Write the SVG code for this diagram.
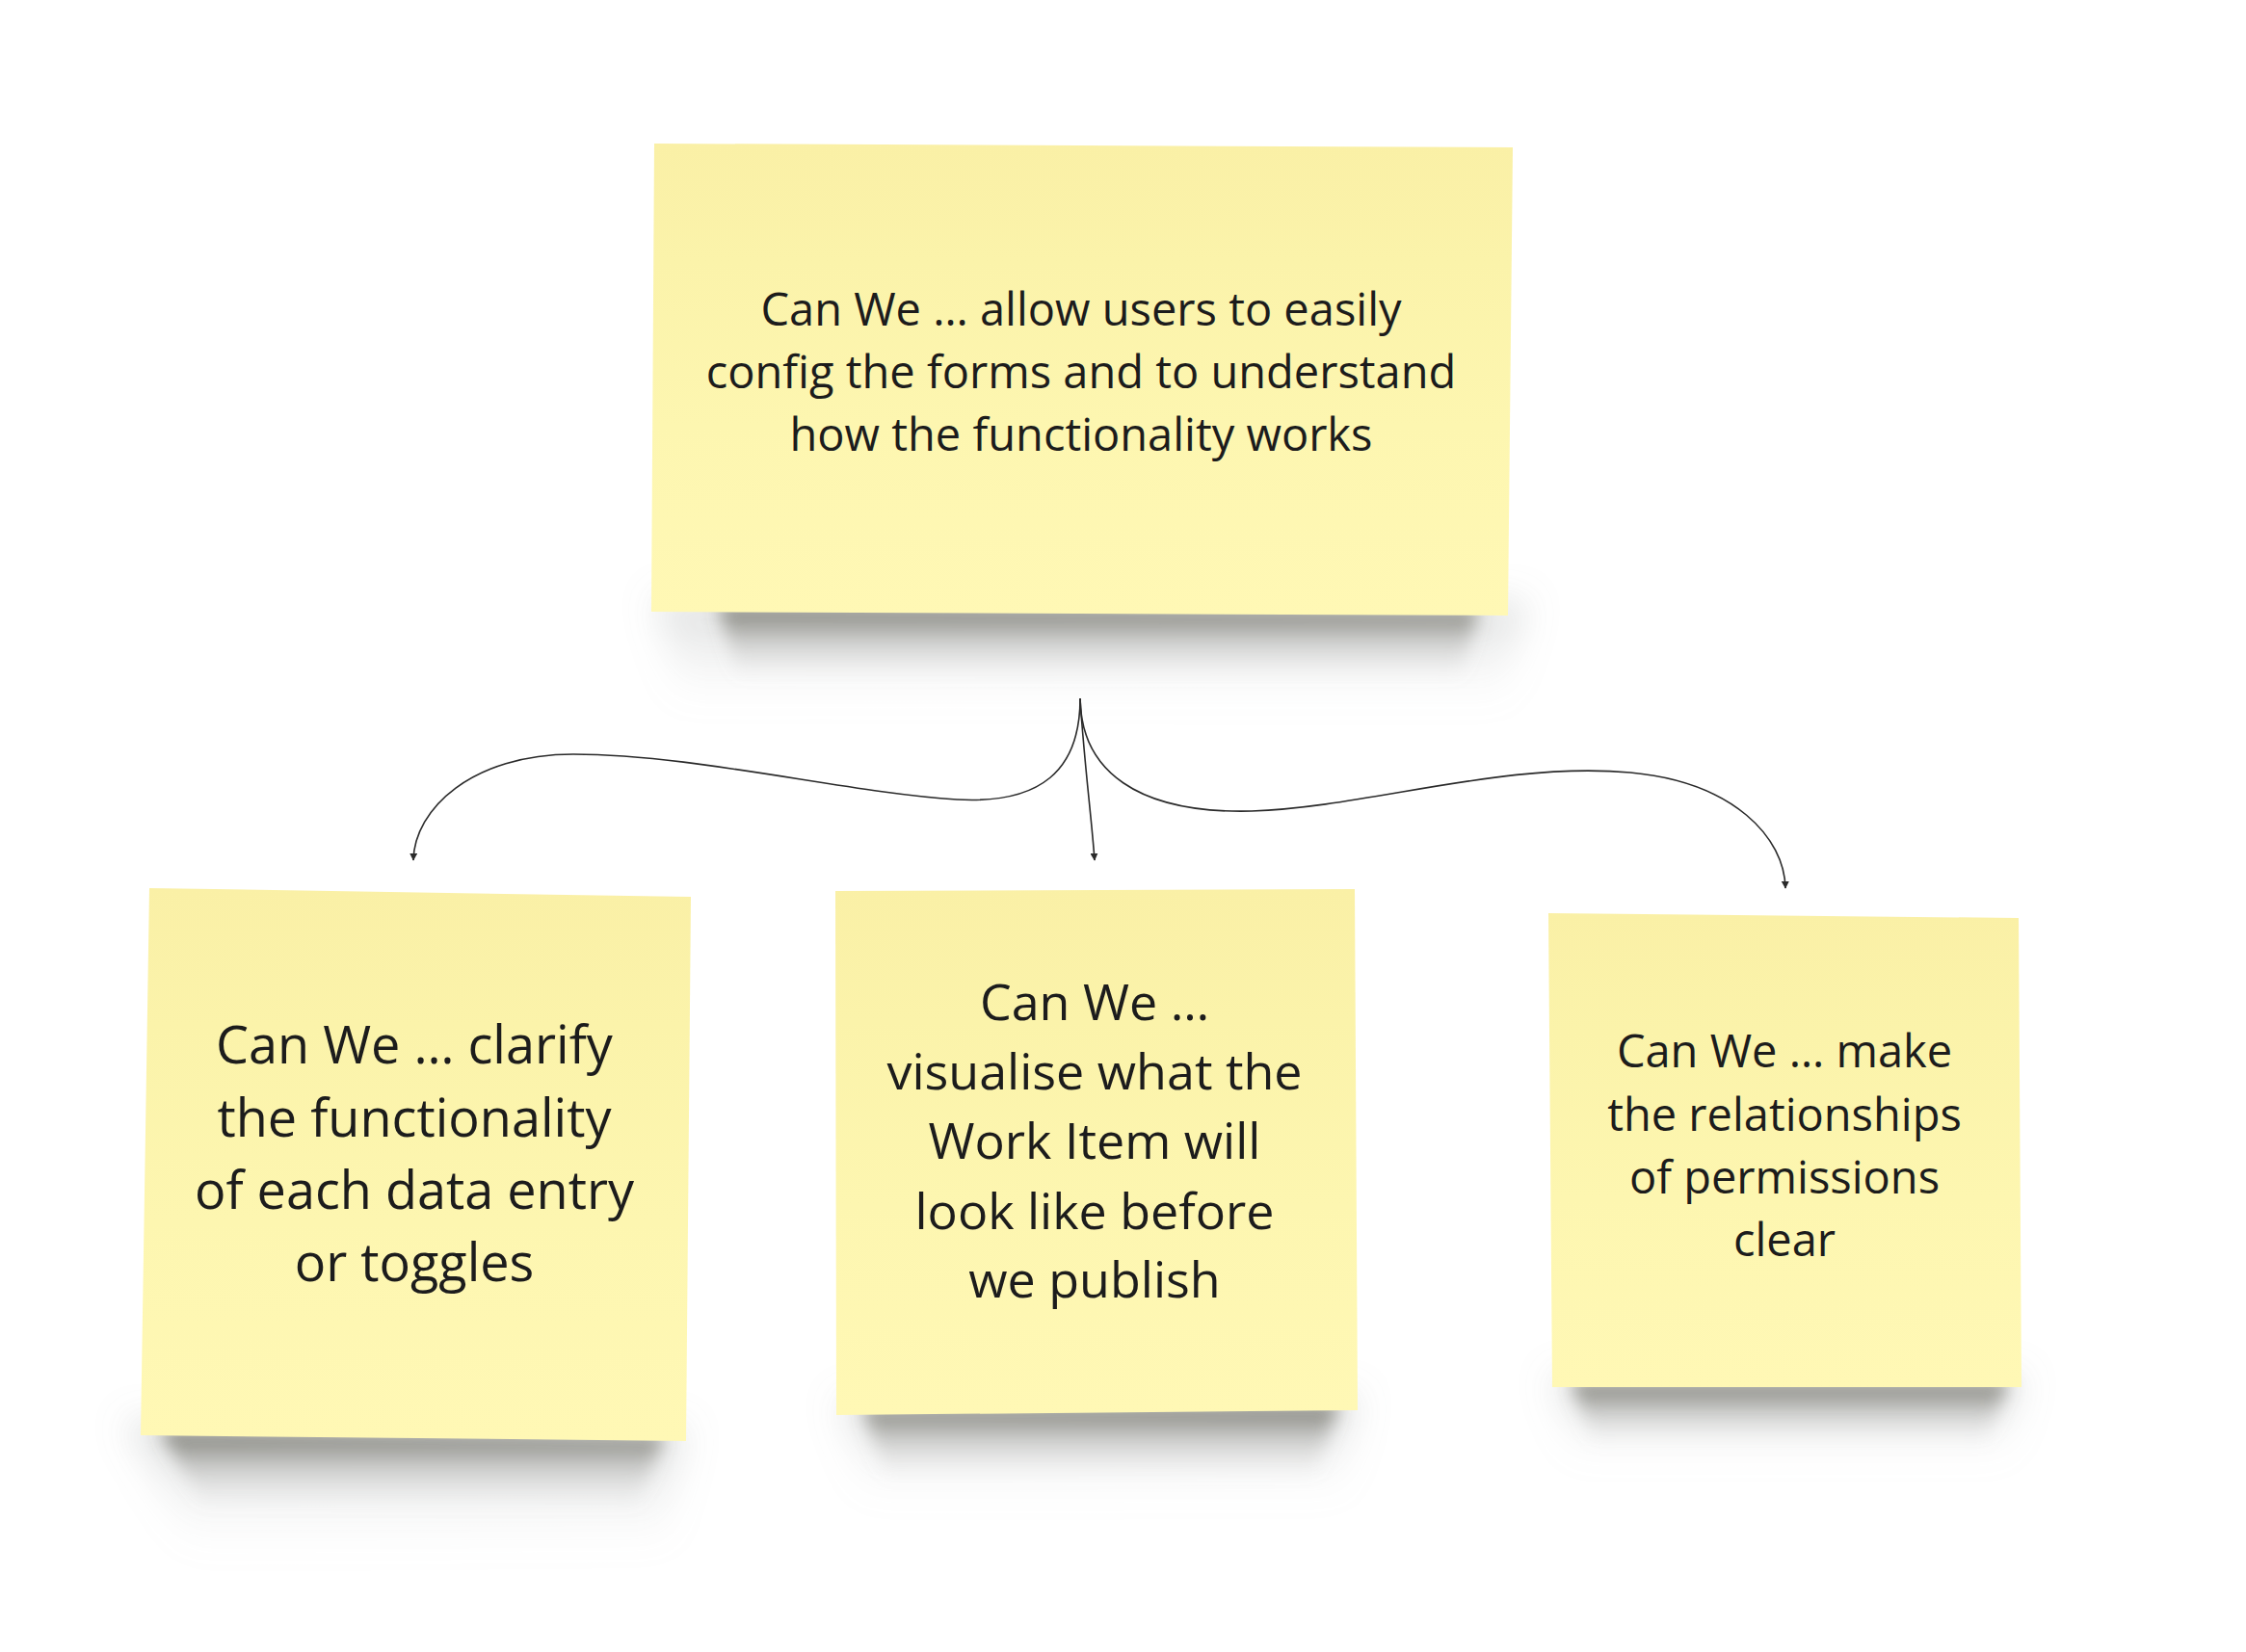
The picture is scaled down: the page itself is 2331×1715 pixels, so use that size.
<svg xmlns="http://www.w3.org/2000/svg" width="2331" height="1715" viewBox="0 0 2331 1715">
<style>
.txt{font-family:"Open Sans","Noto Sans","Liberation Sans",sans-serif;fill:#1c1c1c;text-anchor:middle}
.conn{fill:none;stroke:#2a2a2a;stroke-width:1.6}
.note{fill:url(#paper)}
.shd{fill:url(#shGrad);filter:url(#blurA)}
.halo{fill:url(#haloGrad);filter:url(#blurB)}
</style>
<defs>
<linearGradient id="paper" x1="0" y1="0" x2="0" y2="1">
<stop offset="0" stop-color="#faf0a6"/>
<stop offset="0.25" stop-color="#fbf3aa"/>
<stop offset="0.6" stop-color="#fdf6b0"/>
<stop offset="1" stop-color="#fff8b5"/>
</linearGradient>
<linearGradient id="shGrad" x1="0" y1="0" x2="0" y2="1">
<stop offset="0" stop-color="#55554a" stop-opacity="0.7"/>
<stop offset="0.2" stop-color="#5e5e54" stop-opacity="0.55"/>
<stop offset="0.55" stop-color="#8a8a86" stop-opacity="0.25"/>
<stop offset="1" stop-color="#aaaaaa" stop-opacity="0"/>
</linearGradient>
<linearGradient id="haloGrad" x1="0" y1="0" x2="0" y2="1">
<stop offset="0" stop-color="#8a8e8e" stop-opacity="0.3"/>
<stop offset="0.5" stop-color="#a0a4a4" stop-opacity="0.15"/>
<stop offset="1" stop-color="#c0c0c0" stop-opacity="0"/>
</linearGradient>
<filter id="blurA" x="-20%" y="-60%" width="140%" height="220%"><feGaussianBlur stdDeviation="9"/></filter>
<filter id="blurB" x="-30%" y="-60%" width="160%" height="220%"><feGaussianBlur stdDeviation="18"/></filter>
<marker id="arr" viewBox="0 0 10 10" refX="9" refY="5" markerWidth="8" markerHeight="8" markerUnits="userSpaceOnUse" orient="auto">
<path d="M0,0 L10,5 L0,10 z" fill="#2a2a2a"/>
</marker>
</defs>
<rect width="2331" height="1715" fill="#ffffff"/>

<g id="connectors">
<path class="conn" d="M1121,725 C1121,800 1080,835 993,830 C880,823 720,783 595,783 C490,783 430,840 429,893" marker-end="url(#arr)"/>
<path class="conn" d="M1121,725 C1125,790 1133,850 1136,893" marker-end="url(#arr)"/>
<path class="conn" d="M1121,725 C1122,800 1180,845 1299,842 C1420,838 1560,790 1692,802 C1800,812 1852,870 1853,922" marker-end="url(#arr)"/>
</g>

<g id="node-top">
<path class="halo" d="M680,620 L1585,624 L1560,730 L705,726 z"/>
<path class="shd" d="M745,628 L1535,632 L1515,705 L765,701 z"/>
<polygon class="note" points="679,149 1570,153 1565,639 676,635"/>
<text class="txt" font-size="47"><tspan x="1122" y="338">Can We … allow users to easily</tspan><tspan x="1122" y="403">config the forms and to understand</tspan><tspan x="1122" y="468">how the functionality works</tspan></text>
</g>

<g id="node-left">
<path class="halo" d="M130,1475 L712,1481 L690,1600 L200,1610 z"/>
<path class="shd" d="M165,1484 L690,1490 L660,1565 L210,1560 z"/>
<polygon class="note" points="155,922 717,931 712,1496 146,1490"/>
<text class="txt" font-size="54"><tspan x="430" y="1104">Can We … clarify</tspan><tspan x="430" y="1180">the functionality</tspan><tspan x="430" y="1255">of each data entry</tspan><tspan x="430" y="1330">or toggles</tspan></text>
</g>

<g id="node-mid">
<path class="halo" d="M870,1452 L1410,1448 L1390,1550 L900,1555 z"/>
<path class="shd" d="M895,1461 L1390,1457 L1365,1530 L920,1535 z"/>
<polygon class="note" points="867,925 1406,923 1409,1464 868,1469"/>
<text class="txt" font-size="52"><tspan x="1136" y="1059">Can We …</tspan><tspan x="1136" y="1131">visualise what the</tspan><tspan x="1136" y="1203">Work Item will</tspan><tspan x="1136" y="1276">look like before</tspan><tspan x="1136" y="1347">we publish</tspan></text>
</g>

<g id="node-right">
<path class="halo" d="M1610,1428 L2100,1428 L2080,1515 L1635,1515 z"/>
<path class="shd" d="M1630,1434 L2085,1434 L2060,1500 L1655,1500 z"/>
<polygon class="note" points="1607,948 2095,953 2098,1440 1611,1440"/>
<text class="txt" font-size="47"><tspan x="1852" y="1108">Can We … make</tspan><tspan x="1852" y="1174">the relationships</tspan><tspan x="1852" y="1239">of permissions</tspan><tspan x="1852" y="1304">clear</tspan></text>
</g>
</svg>
